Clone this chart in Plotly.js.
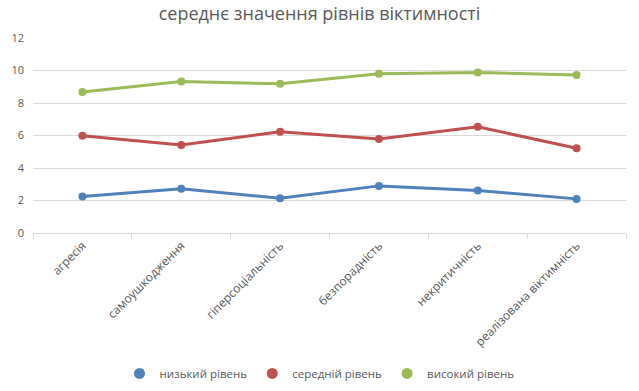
<!DOCTYPE html>
<html><head><meta charset="utf-8">
<script src="https://cdn.plot.ly/plotly-3.0.1.min.js"></script>
<style>html,body{margin:0;padding:0;background:#fff}#c{width:639px;height:391px}</style>
</head><body><div id="c"></div>
<script>
const categories = ["агресія","самоушкодження","гіперсоціальність","безпорадність","некритичність","реалізована віктимність"];
const seriesNames = ["низький рівень","середній рівень","високий рівень"];
const lowValues = [2.25, 2.72, 2.14, 2.90, 2.62, 2.10];
const midValues = [5.99, 5.41, 6.23, 5.78, 6.54, 5.21];
const highValues = [8.67, 9.32, 9.18, 9.80, 9.88, 9.72];
const colors = ["#4f81bd","#c0504d","#9bbb59"];
const allValues = [lowValues, midValues, highValues];
const data = allValues.map((v,i)=>({
  x: categories, y: v, name: seriesNames[i], type:"scatter", mode:"lines+markers", showlegend:false,
  line:{color:colors[i], width:3}, marker:{color:colors[i], size:8}
}));
seriesNames.forEach((n,i)=>data.push({
  x:[null], y:[null], name:n, type:"scatter", mode:"markers", showlegend:true,
  marker:{color:colors[i], size:11}
}));
const layout = {
  width:639, height:391,
  margin:{l:33, r:13, t:38, b:158, autoexpand:false},
  paper_bgcolor:"#fff", plot_bgcolor:"#fff",
  font:{family:"Open Sans, Liberation Sans, sans-serif", color:"#595959", size:11},
  title:{text:"середнє значення рівнів віктимності", font:{size:18, color:"#595959"}, x:0.5, xanchor:"center", y:0.965, yanchor:"middle"},
  xaxis:{type:"category", range:[-0.5,5.5], tickangle:-45, showgrid:false, showline:true, linecolor:"#d9d9d9", linewidth:1,
    ticks:"outside", tickson:"boundaries", ticklen:5, tickcolor:"#d9d9d9", tickfont:{size:12, color:"#595959"}, fixedrange:true, automargin:false},
  yaxis:{range:[0,12], dtick:2, showgrid:true, gridcolor:"#d9d9d9", gridwidth:1, zeroline:false, showline:false,
    ticks:"", tickfont:{size:11, color:"#595959"}, ticklabelstandoff:8, automargin:false},
  showlegend:true,
  legend:{orientation:"h", x:0.5, xref:"container", xanchor:"center", yref:"container", y:0.045, yanchor:"middle", font:{size:11.5, color:"#595959"}, itemwidth:30, tracegroupgap:0}
};
Plotly.newPlot("c", data, layout, {displayModeBar:false, staticPlot:true});
</script></body></html>
